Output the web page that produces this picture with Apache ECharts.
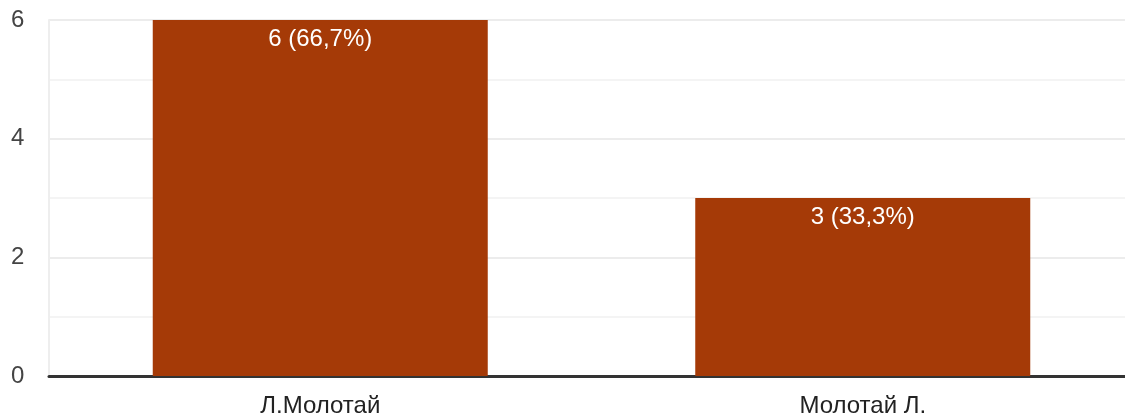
<!DOCTYPE html>
<html>
<head>
<meta charset="utf-8">
<script src="https://cdn.jsdelivr.net/npm/echarts@6/dist/echarts.min.js"></script>
<style>
html,body{margin:0;padding:0;background:#fff;overflow:hidden;width:1125px;height:418px;}
#chart{width:1134px;height:418px;}
</style>
</head>
<body>
<div id="chart"></div>
<script>
var categories = ['Л.Молотай', 'Молотай Л.'];
var counts = [6, 3];
var percents = ['66,7%', '33,3%'];
var yTicks = [0, 2, 4, 6];

var FONT = '"Liberation Sans", Arial, sans-serif';
var chart = echarts.init(document.getElementById('chart'), null, {renderer: 'canvas'});
chart.setOption({
  animation: false,
  backgroundColor: '#ffffff',
  grid: {left: 49, right: 0, top: 20, bottom: 41, containLabel: false},
  xAxis: {
    type: 'category',
    data: categories,
    axisLine: {show: true, lineStyle: {color: '#333333', width: 3}},
    axisTick: {show: false},
    axisLabel: {color: '#222222', fontSize: 24, fontFamily: FONT, margin: 18}
  },
  yAxis: {
    type: 'value',
    min: yTicks[0],
    max: yTicks[yTicks.length - 1],
    interval: 2,
    axisLine: {show: true, lineStyle: {color: '#eeeeee', width: 2}},
    axisTick: {show: false},
    axisLabel: {
      color: '#444444', fontSize: 24, fontFamily: FONT,
      align: 'left', margin: 38, padding: [2, 0, 0, 0]
    },
    splitLine: {show: true, lineStyle: {color: '#ececec', width: 2}},
    minorTick: {show: false, splitNumber: 2},
    minorSplitLine: {show: true, lineStyle: {color: '#f4f4f4', width: 2}}
  },
  series: [{
    type: 'bar',
    data: counts,
    barWidth: 335,
    itemStyle: {color: '#a53a07'},
    label: {
      show: true,
      position: 'insideTop',
      distance: 7,
      color: '#ffffff',
      fontSize: 24,
      fontFamily: FONT,
      formatter: function (p) { return counts[p.dataIndex] + ' (' + percents[p.dataIndex] + ')'; }
    }
  }]
});
</script>
</body>
</html>
